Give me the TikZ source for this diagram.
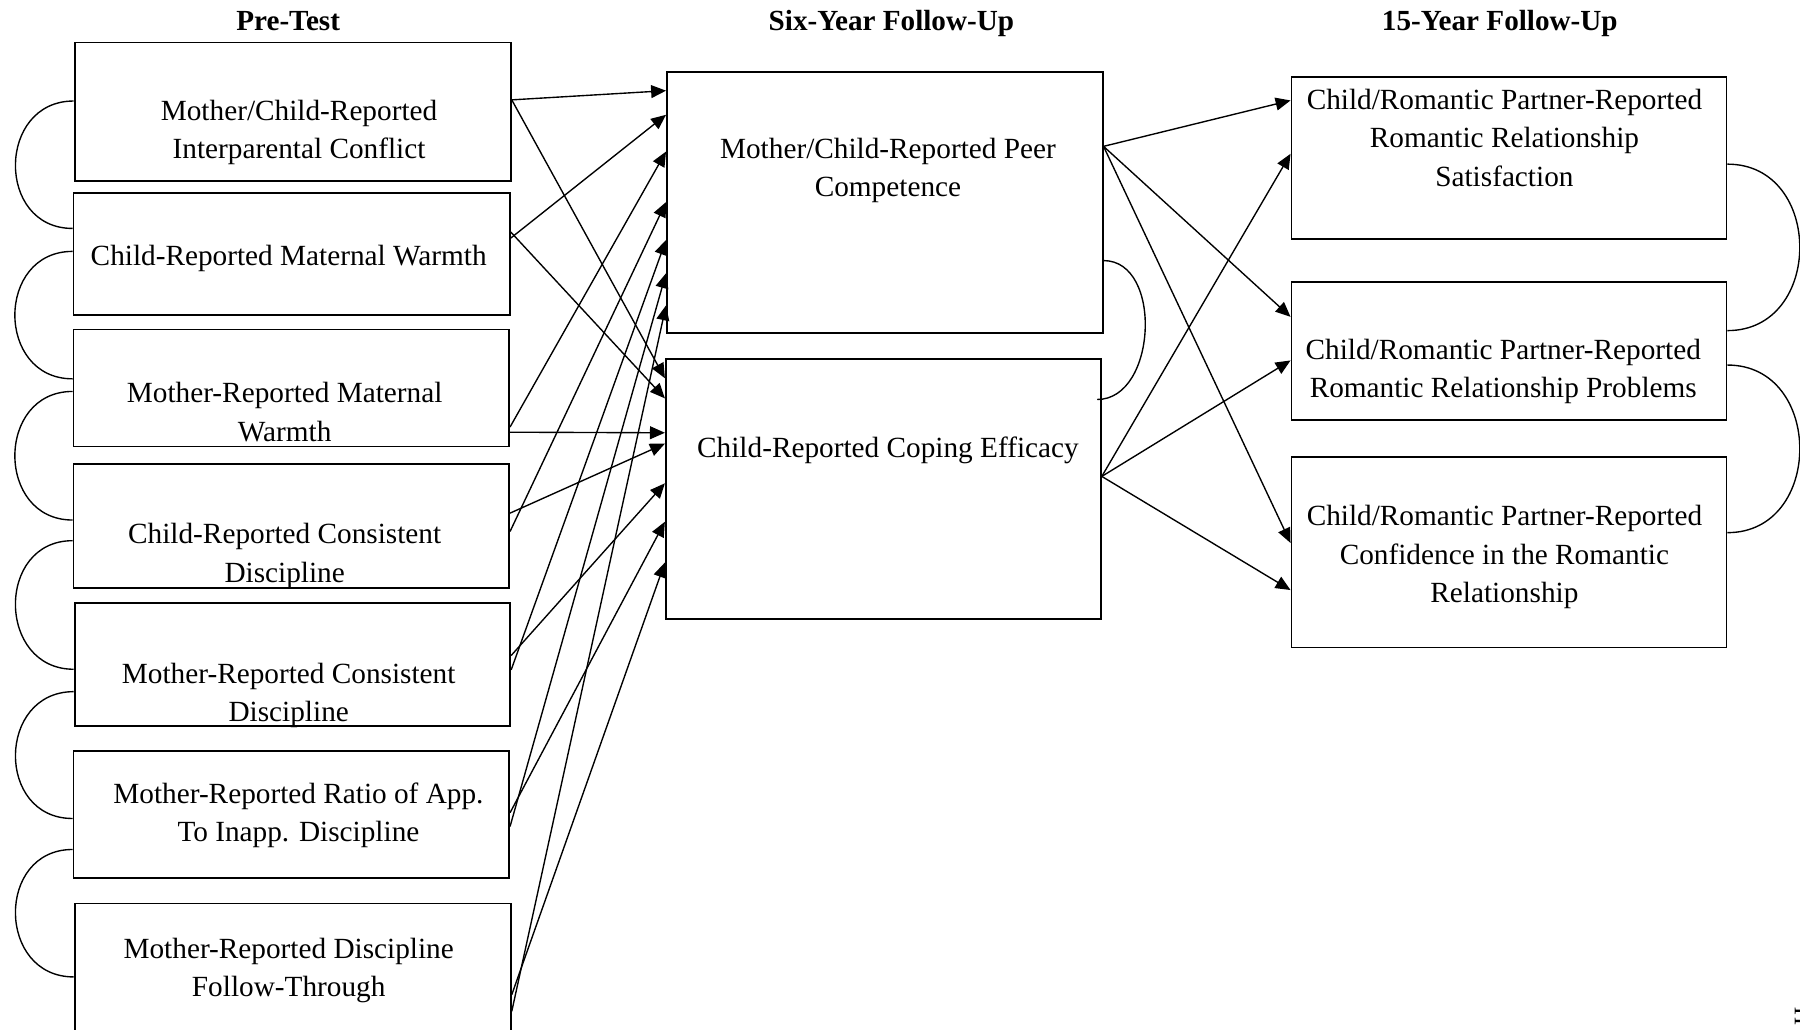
\documentclass[tikz,border=0pt]{standalone}
\usepackage{fontspec}
\setmainfont{Liberation Serif}
\usetikzlibrary{arrows.meta,fit,calc}

\begin{document}
\begin{tikzpicture}[x=0.5pt,y=-0.5pt,
  box/.style={draw, line width=0.8pt, inner sep=0pt},
  lbl/.style={align=center, inner sep=0pt, font=\fontsize{12.75}{16.75}\selectfont},
  ttl/.style={anchor=base, inner sep=0pt, font=\fontsize{12.7}{15}\selectfont\bfseries},
  arr/.style={line width=0.6pt, -{Triangle[length=6.5pt,width=5.6pt]}},
  cov/.style={line width=0.6pt},
]
\useasboundingbox (0,0) rectangle (1568,897);

% column headings
\node[ttl] (h1) at (251,26.5) {Pre-Test};
\node[ttl] (h2) at (776.5,26.5) {Six-Year Follow-Up};
\node[ttl] (h3) at (1306.5,26.5) {15-Year Follow-Up};

% pre-test measures
\node[box, fit={(65,37) (445,157.5)}] (L1) {};
\node[box, fit={(64,168) (444,274.5)}] (L2) {};
\node[box, fit={(64,287) (443.5,389)}] (L3) {};
\node[box, fit={(64,404) (443.5,512.5)}] (L4) {};
\node[box, fit={(65,525) (444.5,632.5)}] (L5) {};
\node[box, fit={(64,654) (443.5,764.5)}] (L6) {};
\node[box, fit={(65,787) (445,930)}] (L7) {};

\node[lbl] (t1) at (260.5,115.5) {Mother/Child-Reported\\Interparental Conflict};
\node[lbl] (t2) at (251.5,225) {Child-Reported Maternal Warmth};
\node[lbl] (t3) at (248,359) {Mother-Reported Maternal\\Warmth};
\node[lbl] (t4) at (248,484.5) {Child-Reported Consistent\\Discipline};
\node[lbl] (t5) at (251.5,606) {Mother-Reported Consistent\\Discipline};
\node[lbl] (t6) at (260,710) {Mother-Reported Ratio of App.\\To Inapp. Discipline};
\node[lbl] (t7) at (251.5,845.5) {Mother-Reported Discipline\\Follow-Through};

% six-year mediators
\node[box, fit={(581,62.5) (960.5,290)}] (A) {};
\node[box, fit={(580,313) (959,539.5)}] (B) {};
\node[lbl] (tA) at (773.5,148.5) {Mother/Child-Reported Peer\\Competence};
\node[lbl] (tB) at (773.5,392) {Child-Reported Coping Efficacy};

% fifteen-year outcomes
\node[box, fit={(1125,67) (1504,208)}] (R1) {};
\node[box, fit={(1125,246) (1504,366)}] (R2) {};
\node[box, fit={(1125,398) (1504,564)}] (R3) {};
\node[lbl] (tR1) at (1310.5,120) {Child/Romantic Partner-Reported\\Romantic Relationship\\Satisfaction};
\node[lbl] (tR2) at (1309.5,323.5) {Child/Romantic Partner-Reported\\Romantic Relationship Problems};
\node[lbl] (tR3) at (1310.5,485.5) {Child/Romantic Partner-Reported\\Confidence in the Romantic\\Relationship};

% paths from pre-test to six-year follow-up
\draw[arr] (L1.east |- 0,87) -- (A.west |- 0,79);
\draw[arr] (L1.east |- 0,87) -- (B.west |- 0,329.5);
\draw[arr] (L2.east |- 0,207.5) -- (A.west |- 0,100);
\draw[arr] (L2.east |- 0,202) -- (B.west |- 0,347);
\draw[arr] (L3.east |- 0,372) -- (A.west |- 0,132);
\draw[arr] (L3.east |- 0,376.5) -- (B.west |- 0,377);
\draw[arr] (L4.east |- 0,463) -- (A.west |- 0,176);
\draw[arr] (L4.east |- 0,447) -- (B.west |- 0,386.5);
\draw[arr] (L5.east |- 0,583.5) -- (A.west |- 0,209);
\draw[arr] (L5.east |- 0,571) -- (B.west |- 0,421);
\draw[arr] (L6.east |- 0,720) -- (A.west |- 0,238);
\draw[arr] (L6.east |- 0,708) -- (B.west |- 0,454.5);
\draw[arr] (L7.east |- 0,881) -- (A.west |- 0,266);
\draw[arr] (L7.east |- 0,866.5) -- (B.west |- 0,490);

% paths from six-year to fifteen-year follow-up
\draw[arr] (A.east |- 0,127.5) -- (R1.west |- 0,87.5);
\draw[arr] (A.east |- 0,127.5) -- (R2.west |- 0,276);
\draw[arr] (A.east |- 0,127.5) -- (R3.west |- 0,473);
\draw[arr] (B.east |- 0,415) -- (R1.west |- 0,134);
\draw[arr] (B.east |- 0,415) -- (R2.west |- 0,314);
\draw[arr] (B.east |- 0,415) -- (R3.west |- 0,514);

% covariances among pre-test measures
\draw[cov] (L1.west |- 0,88) .. controls +(-67,0) and +(-67,0) .. (L2.west |- 0,199);
\draw[cov] (L2.west |- 0,219) .. controls +(-67,0) and +(-67,0) .. (L3.west |- 0,330);
\draw[cov] (L3.west |- 0,341) .. controls +(-67,0) and +(-67,0) .. (L4.west |- 0,453);
\draw[cov] (L4.west |- 0,471) .. controls +(-67,0) and +(-67,0) .. (L5.west |- 0,583);
\draw[cov] (L5.west |- 0,602.5) .. controls +(-67,0) and +(-67,0) .. (L6.west |- 0,713);
\draw[cov] (L6.west |- 0,740) .. controls +(-67,0) and +(-67,0) .. (L7.west |- 0,851);

% covariance between the mediators
\coordinate (bEnd) at ($(B.east |- 0,348)+(-4,0)$);
\draw[cov] (A.east |- 0,227) .. controls +(52,0) and +(52,0) .. (bEnd);

% covariances among outcomes
\draw[cov] (R1.east |- 0,143) .. controls +(84,0) and +(84,0) .. (R2.east |- 0,288);
\draw[cov] (R2.east |- 0,318) .. controls +(84,0) and +(84,0) .. (R3.east |- 0,464);

% glyph at the page edge
\node[rotate=90, anchor=north, inner sep=0pt, font=\fontsize{11}{13}\selectfont] (pg) at (1563,885) {H};
\end{tikzpicture}
\end{document}
